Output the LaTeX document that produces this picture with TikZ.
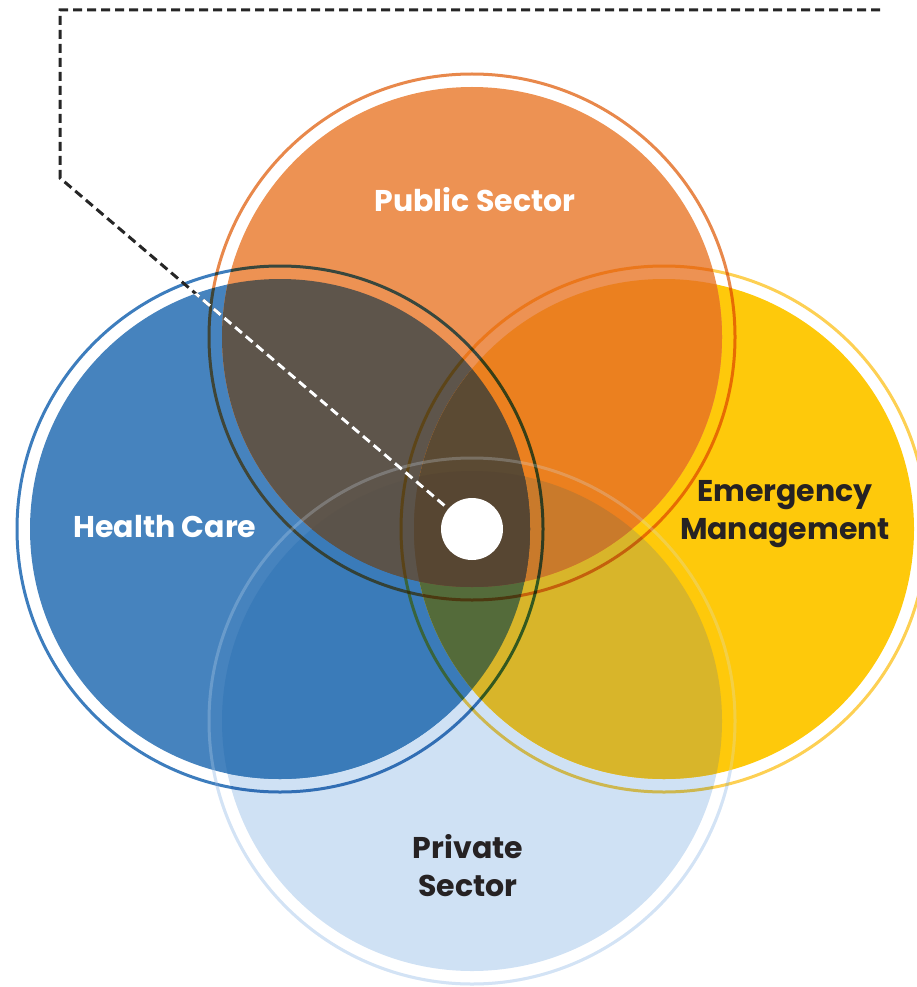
\documentclass[tikz,border=0pt]{standalone}
\usepackage{fontspec}
\setmainfont{Poppins}
\usetikzlibrary{arrows,shapes}
% fills of the single areas
\definecolor{privatefill}{HTML}{CFE1F4}
\definecolor{healthfill}{HTML}{4683BE}
\definecolor{emergfill}{HTML}{FEC90B}
\definecolor{publicfill}{HTML}{ED9253}
% fills of the overlaps
\definecolor{hvfill}{HTML}{3A7BB9}
\definecolor{evfill}{HTML}{D8B52A}
\definecolor{phfill}{HTML}{5E554B}
\definecolor{pefill}{HTML}{EB801F}
\definecolor{hevfill}{HTML}{546B3A}
\definecolor{pevfill}{HTML}{C97A2B}
\definecolor{phvfill}{HTML}{5B534A}
\definecolor{phefill}{HTML}{5B4A33}
\definecolor{phevfill}{HTML}{574632}
% rings
\definecolor{privatering}{HTML}{D3E3F5}
\definecolor{healthring}{HTML}{3D7DBD}
\definecolor{emergring}{HTML}{FDD053}
\definecolor{publicring}{HTML}{E8884B}
\definecolor{darktext}{HTML}{262223}
\tikzstyle{ring}=[line width=3pt, blend mode=multiply]
\tikzstyle{sector}=[font=\bfseries\fontsize{30}{38}\selectfont, align=center]
\tikzstyle{hubdot}=[circle, fill=white, minimum size=62pt, inner sep=0pt]
\tikzstyle{dashline}=[line width=3pt, dash pattern=on 9pt off 5pt]

\begin{document}
\begin{tikzpicture}[x=1pt, y=-1pt]
    \useasboundingbox (0,0) rectangle (916,987);
    % centres of the four circles
    \coordinate (P) at (472,337);
    \coordinate (H) at (280,529);
    \coordinate (E) at (664,529);
    \coordinate (V) at (472,721);
    % the private sector lies at the bottom, ring and all
    \fill[privatefill] (V) circle[radius=250pt];
    \draw[line width=3pt, privatering] (V) circle[radius=263pt];
    % other single areas
    \foreach \c/\col in {H/healthfill, E/emergfill, P/publicfill}
        \fill[\col] (\c) circle[radius=250pt];
    % two-way overlaps
    \foreach \a/\b/\col in {H/V/hvfill, E/V/evfill, P/H/phfill, P/E/pefill}
    {
        \begin{scope}
            \clip (\a) circle[radius=250pt];
            \fill[\col] (\b) circle[radius=250pt];
        \end{scope}
    }
    % three-way overlaps
    \foreach \a/\b/\c/\col in {H/E/V/hevfill, P/E/V/pevfill, P/H/V/phvfill, P/H/E/phefill}
    {
        \begin{scope}
            \clip (\a) circle[radius=250pt];
            \clip (\b) circle[radius=250pt];
            \fill[\col] (\c) circle[radius=250pt];
        \end{scope}
    }
    % the middle
    \begin{scope}
        \clip (P) circle[radius=250pt];
        \clip (H) circle[radius=250pt];
        \clip (E) circle[radius=250pt];
        \fill[phevfill] (V) circle[radius=250pt];
    \end{scope}
    % outer rings
    \foreach \c/\col in {H/healthring, E/emergring, P/publicring}
        \draw[ring, \col] (\c) circle[radius=263pt];
    \draw[line width=3pt, privatering, opacity=0.25] (V) circle[radius=263pt];
    % labels
    \node[sector, white] (public) at (475,200) {Public Sector};
    \node[sector, white] (health) at (165,527) {Health Care};
    \node[sector, darktext] (emerg) at (785,514) {Emergency\\Management};
    \node[sector, darktext] (private) at (468,866) {Private\\Sector};
    % pointer to the middle
    \node[hubdot] (hub) at (472,529) {};
    \coordinate (tipend) at (880,10);
    \coordinate (topleft) at (60,10);
    \coordinate (bend) at (60,178);
    \draw[dashline, black!85] (tipend) -- (topleft) -- (bend) -- (hub);
    \begin{scope}
        \clip (H) circle[radius=250pt];
        \draw[dashline, white] (tipend) -- (topleft) -- (bend) -- (hub);
    \end{scope}
\end{tikzpicture}
\end{document}
